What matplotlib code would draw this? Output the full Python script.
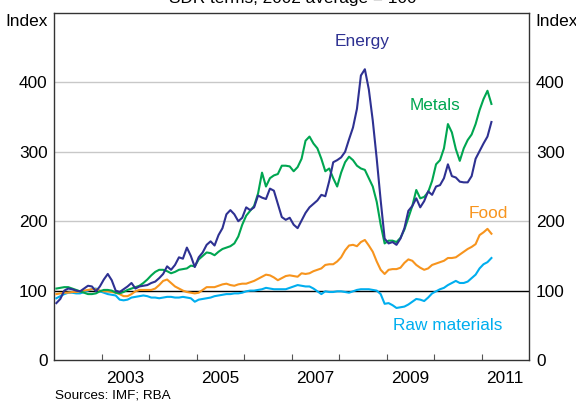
import numpy as np
import matplotlib
matplotlib.use("Agg")
import matplotlib.pyplot as plt

plt.rcParams['font.family'] = ['Liberation Sans', 'DejaVu Sans']

# Monthly index values, Jan 2002 - Mar 2011 (SDR terms, 2002 average = 100)
energy = [82, 88, 100, 103, 102, 100, 99, 103, 107, 106, 99, 106, 116, 124, 115, 100, 98, 102, 106, 111,
          103, 106, 107, 108, 111, 113, 118, 124, 135, 130, 137, 148, 146, 162, 150, 134, 148, 155, 166, 171,
          165, 180, 190, 210, 216, 210, 200, 205, 220, 216, 220, 237, 234, 232, 247, 244, 225, 206, 202, 205,
          195, 190, 201, 212, 220, 225, 230, 238, 236, 258, 285, 288, 292, 300, 318, 335, 362, 410, 419, 390,
          345, 290, 230, 175, 168, 170, 166, 175, 190, 215, 222, 233, 220, 229, 243, 238, 250, 252, 262, 282,
          265, 263, 257, 256, 256, 265, 290, 301, 312, 322, 343]
metals = [103, 104, 105, 105, 103, 101, 99, 97, 95, 95, 96, 99, 101, 101, 100, 97, 96, 98, 101, 103,
          105, 107, 111, 116, 122, 127, 130, 130, 128, 125, 127, 130, 131, 132, 136, 135, 145, 150, 155, 154,
          151, 156, 160, 162, 164, 168, 178, 195, 208, 215, 222, 240, 270, 250, 262, 266, 268, 280, 280, 279,
          272, 278, 290, 316, 322, 312, 305, 290, 272, 276, 262, 250, 270, 285, 293, 288, 280, 276, 274, 262,
          250, 228, 195, 168, 172, 172, 170, 176, 188, 205, 222, 245, 233, 235, 242, 258, 282, 288, 305, 340,
          328, 304, 287, 305, 317, 325, 340, 360, 376, 388, 369]
food = [95, 96, 97, 97, 98, 98, 99, 100, 101, 102, 102, 100, 99, 99, 98, 97, 95, 92, 92, 95,
        99, 101, 101, 101, 101, 103, 108, 114, 116, 111, 106, 103, 100, 98, 97, 96, 97, 101, 105, 105,
        105, 107, 109, 110, 108, 107, 109, 110, 110, 112, 114, 117, 120, 123, 122, 119, 115, 118, 121, 122,
        121, 120, 125, 124, 125, 128, 130, 132, 137, 138, 138, 142, 148, 158, 165, 166, 164, 170, 173, 165,
        156, 142, 130, 124, 130, 131, 131, 133, 140, 145, 143, 137, 133, 130, 132, 137, 139, 141, 143, 147,
        147, 148, 152, 156, 160, 163, 167, 180, 184, 189, 182]
raw = [89, 92, 95, 97, 97, 96, 96, 98, 100, 102, 103, 99, 97, 95, 94, 93, 87, 86, 87, 90,
       91, 92, 93, 92, 90, 90, 89, 90, 91, 91, 90, 90, 91, 90, 89, 84, 87, 88, 89, 90,
       92, 93, 94, 95, 95, 96, 96, 97, 99, 100, 100, 101, 102, 104, 103, 102, 102, 102, 102, 104,
       106, 108, 107, 106, 106, 103, 99, 95, 99, 98, 98, 99, 99, 98, 97, 99, 101, 102, 102, 102,
       101, 100, 95, 81, 82, 79, 75, 76, 77, 80, 84, 88, 87, 85, 90, 96, 99, 102, 104, 108,
       111, 114, 111, 111, 113, 118, 123, 132, 138, 141, 147]

x = 2002 + (np.arange(len(energy)) + 0.5) / 12

c_energy = '#2e3192'
c_metals = '#00a651'
c_food = '#f7941d'
c_raw = '#00aeef'

fig = plt.figure(figsize=(5.76, 4.01), dpi=100)
ax = fig.add_axes([0.0944, 0.1022, 0.824, 0.8653])

# gridlines
for g in [200, 300, 400]:
    ax.axhline(g, color='#c8c8c8', lw=1.0, zorder=1)
ax.axhline(100, color='black', lw=1.0, zorder=1)

ax.plot(x, raw, color=c_raw, lw=1.5, zorder=3)
ax.plot(x, food, color=c_food, lw=1.5, zorder=3)
ax.plot(x, metals, color=c_metals, lw=1.5, zorder=3)
ax.plot(x, energy, color=c_energy, lw=1.5, zorder=4)

ax.set_xlim(2002, 2012)
ax.set_ylim(0, 500)

fs = 12.4
ax.set_yticks([0, 100, 200, 300, 400])
ax.tick_params(axis='y', length=0, pad=5, labelsize=fs, labelright=True)
ax.set_xticks(np.arange(2003, 2012))
ax.set_xticklabels([])
ax.tick_params(axis='x', which='major', direction='in', length=4, width=0.8, color='#555555')
ax.set_xticks(np.arange(2003, 2012, 2) + 0.5, minor=True)
ax.set_xticklabels([str(y) for y in range(2003, 2012, 2)], minor=True)
ax.tick_params(axis='x', which='minor', length=0, pad=8, labelsize=fs)

for s in ax.spines.values():
    s.set_color('#333333')
    s.set_linewidth(1.0)

ax.text(2008.48, 459, 'Energy', color=c_energy, fontsize=fs, ha='center', va='center')
ax.text(2010.02, 367, 'Metals', color=c_metals, fontsize=fs, ha='center', va='center')
ax.text(2011.14, 211, 'Food', color=c_food, fontsize=fs, ha='center', va='center')
ax.text(2010.29, 50, 'Raw materials', color=c_raw, fontsize=fs, ha='center', va='center')

fig.text(0.5075, 1 - 3 / 401, 'SDR terms, 2002 average = 100', fontsize=fs, ha='center', va='baseline')
fig.text(0.0944 - 7 / 576, 1 - 21 / 401, 'Index', fontsize=fs, ha='right', va='center')
fig.text(0.9184 + 6 / 576, 1 - 21 / 401, 'Index', fontsize=fs, ha='left', va='center')
fig.text(55 / 576, 1 - 396 / 401, 'Sources: IMF; RBA', fontsize=9.7, ha='left', va='center')

fig.savefig('out.png', dpi=100)
